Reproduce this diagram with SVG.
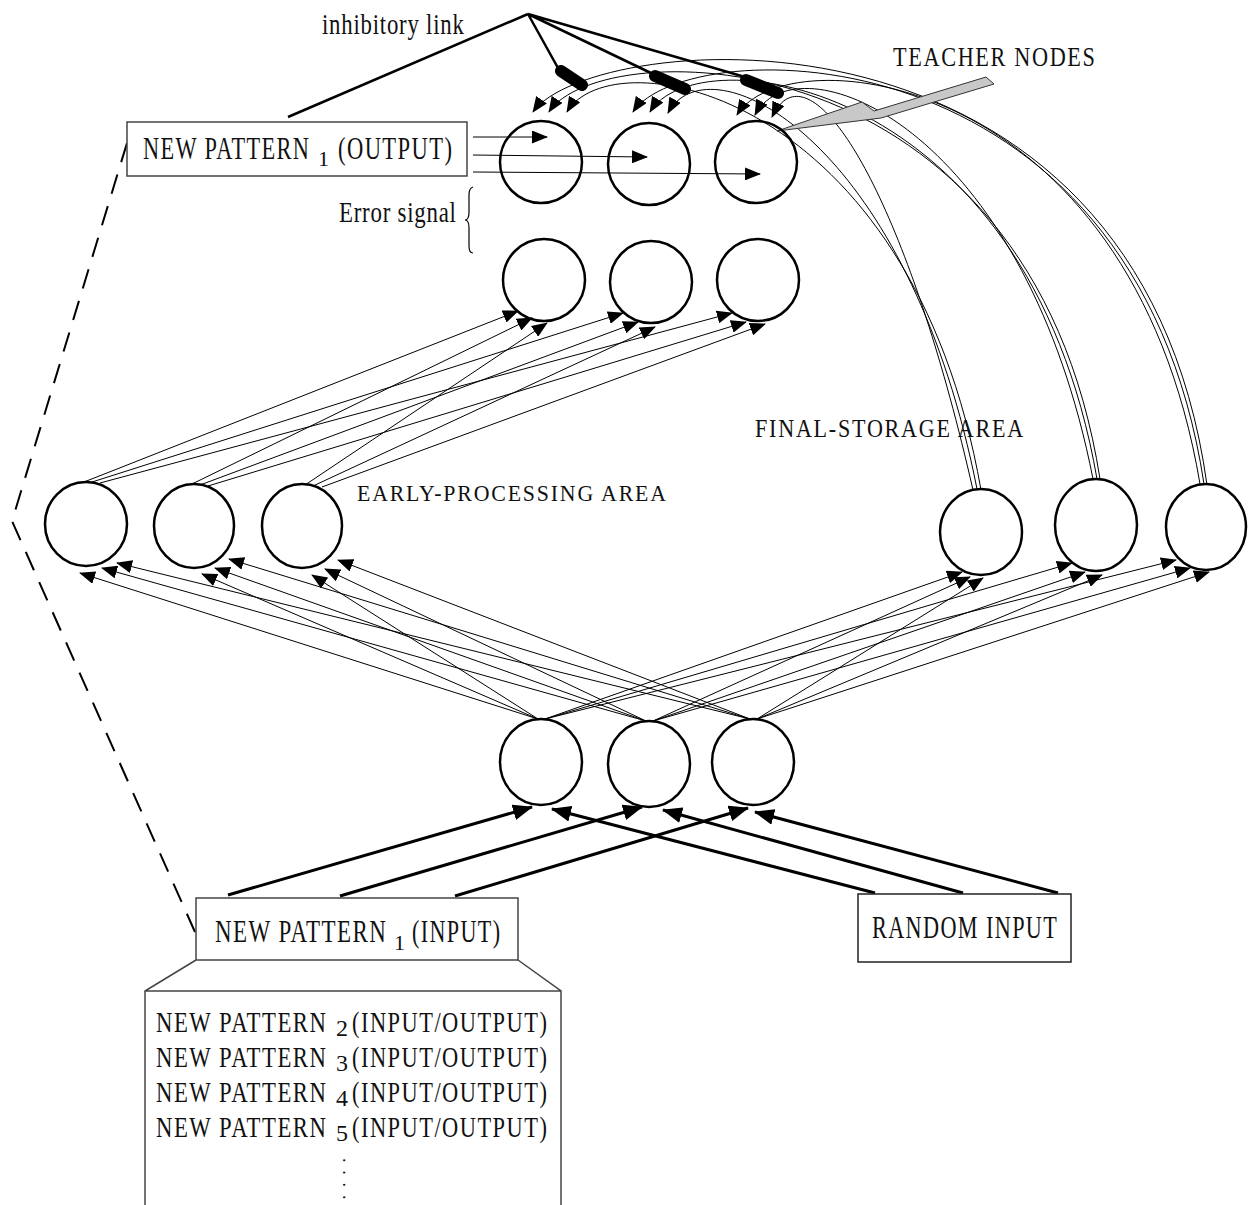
<svg xmlns="http://www.w3.org/2000/svg" width="1249" height="1205" viewBox="0 0 1249 1205">
<style>
.node{fill:none;stroke:#000;stroke-width:2.5}
.box{fill:#fff;stroke:#444;stroke-width:1.5}
.thin{fill:none;stroke:#000;stroke-width:1}
.thick{fill:none;stroke:#000;stroke-width:3}
.inh{fill:none;stroke:#000;stroke-width:2.5}
.cap{fill:none;stroke:#000;stroke-width:12;stroke-linecap:round}
.t{font-family:"Liberation Serif","Times New Roman",serif;fill:#111;letter-spacing:2px}
.s{font-family:"Liberation Serif","Times New Roman",serif;fill:#111}
</style>
<defs>
<marker id="ah" viewBox="0 0 16 13" refX="15" refY="6.5" markerWidth="16" markerHeight="13" markerUnits="userSpaceOnUse" orient="auto"><path d="M0,0 L16,6.5 L0,13 z" fill="#000"/></marker>
<marker id="ahb" viewBox="0 0 20 16" refX="19" refY="8" markerWidth="20" markerHeight="16" markerUnits="userSpaceOnUse" orient="auto"><path d="M0,0 L20,8 L0,16 z" fill="#000"/></marker>
</defs>
<rect width="1249" height="1205" fill="#fff"/>

<g id="connectors">
  <polyline points="127,143 12,521 195,932" fill="none" stroke="#000" stroke-width="2" stroke-dasharray="20,13"/>
  <path class="inh" d="M528,14 L288,117 M528,14 L558,68 M528,14 L653,74 M528,14 L745,77"/>
  <g class="thin" marker-end="url(#ah)">
    <line x1="473" y1="137" x2="547" y2="137"/>
    <line x1="473" y1="155" x2="647" y2="157"/>
    <line x1="473" y1="172" x2="760" y2="174"/>
  </g>
  <g class="thin" marker-end="url(#ah)">
    <path d="M1207,485 C1137,-22 590,30 533,112"/>
    <path d="M1100,479 C1030,31 600,33 549,112"/>
    <path d="M981,490 C911,90 612,36 567,112"/>
    <path d="M1204,484 C1134,23 686,32 633,112"/>
    <path d="M1097,479 C1027,76 696,35 650,112"/>
    <path d="M977,489 C907,136 708,38 668,113"/>
    <path d="M1200,484 C1130,69 786,35 737,115"/>
    <path d="M1093,479 C1023,123 796,37 755,115"/>
    <path d="M973,490 C903,182 808,40 772,117"/>
  </g>
  <g class="thin" marker-end="url(#ah)">
    <line x1="84" y1="482" x2="518" y2="311"/>
    <line x1="92" y1="482" x2="623" y2="313"/>
    <line x1="100" y1="483" x2="732" y2="313"/>
    <line x1="192" y1="484" x2="532" y2="318"/>
    <line x1="200" y1="485" x2="638" y2="322"/>
    <line x1="208" y1="486" x2="746" y2="322"/>
    <line x1="305" y1="485" x2="547" y2="323"/>
    <line x1="313" y1="486" x2="655" y2="327"/>
    <line x1="322" y1="487" x2="765" y2="324"/>
  </g>
  <g class="thin" marker-end="url(#ah)">
    <line x1="538" y1="719" x2="80" y2="573"/>
    <line x1="538" y1="719" x2="202" y2="574"/>
    <line x1="538" y1="719" x2="312" y2="575"/>
    <line x1="545" y1="719" x2="962" y2="572"/>
    <line x1="545" y1="719" x2="1072" y2="563"/>
    <line x1="545" y1="719" x2="1176" y2="560"/>
    <line x1="646" y1="721" x2="102" y2="568"/>
    <line x1="646" y1="721" x2="215" y2="568"/>
    <line x1="646" y1="721" x2="325" y2="569"/>
    <line x1="653" y1="721" x2="970" y2="577"/>
    <line x1="653" y1="721" x2="1085" y2="572"/>
    <line x1="653" y1="721" x2="1190" y2="568"/>
    <line x1="750" y1="719" x2="117" y2="563"/>
    <line x1="750" y1="719" x2="229" y2="559"/>
    <line x1="750" y1="719" x2="338" y2="560"/>
    <line x1="757" y1="719" x2="983" y2="578"/>
    <line x1="757" y1="719" x2="1102" y2="575"/>
    <line x1="757" y1="719" x2="1209" y2="572"/>
  </g>
  <g class="thick" marker-end="url(#ahb)">
    <line x1="228" y1="895" x2="532" y2="807"/>
    <line x1="340" y1="896" x2="642" y2="807"/>
    <line x1="455" y1="896" x2="748" y2="808"/>
    <line x1="875" y1="893" x2="552" y2="809"/>
    <line x1="963" y1="893" x2="663" y2="810"/>
    <line x1="1058" y1="893" x2="755" y2="812"/>
  </g>
  <path class="cap" d="M561,71 L582,85 M655,76 L685,89 M746,80 L778,93"/>
  <path d="M473,187 Q469,188 469,195 L469,212 Q469,220 465,220 Q469,220 469,228 L469,246 Q469,253 473,253" fill="none" stroke="#000" stroke-width="1.2"/>
  <polygon points="777,131 862,102 874,111 986,77 994,84 881,118" fill="#c8c8c8" stroke="#333" stroke-width="1"/>
</g>

<g id="teacher-nodes">
  <circle id="teacher1" class="node" cx="541" cy="162" r="41"/>
  <circle id="teacher2" class="node" cx="649" cy="164" r="41"/>
  <circle id="teacher3" class="node" cx="756" cy="162" r="41"/>
</g>
<g id="hidden-nodes">
  <circle id="hidden1" class="node" cx="544" cy="280" r="41"/>
  <circle id="hidden2" class="node" cx="651" cy="282" r="41"/>
  <circle id="hidden3" class="node" cx="758" cy="280" r="41"/>
</g>
<g id="early-nodes">
  <ellipse id="early1" class="node" cx="86" cy="524" rx="41" ry="42"/>
  <ellipse id="early2" class="node" cx="194" cy="526" rx="40" ry="42"/>
  <ellipse id="early3" class="node" cx="302" cy="526" rx="40" ry="42"/>
</g>
<g id="final-nodes">
  <ellipse id="final1" class="node" cx="981" cy="532" rx="41" ry="43"/>
  <ellipse id="final2" class="node" cx="1096" cy="525" rx="41" ry="46"/>
  <ellipse id="final3" class="node" cx="1206" cy="527" rx="40" ry="43"/>
</g>
<g id="input-nodes">
  <ellipse id="input1" class="node" cx="541" cy="762" rx="41" ry="43"/>
  <ellipse id="input2" class="node" cx="649" cy="764" rx="41" ry="43"/>
  <ellipse id="input3" class="node" cx="753" cy="762" rx="41" ry="43"/>
</g>

<g id="output-box">
  <rect class="box" x="127" y="122" width="340" height="54"/>
  <text class="t" font-size="32" transform="translate(143,159) scale(0.698,1)">NEW PATTERN</text>
  <text class="s" x="318" y="166" font-size="22">1</text>
  <text class="t" font-size="32" transform="translate(338,159) scale(0.706,1)">(OUTPUT)</text>
</g>
<g id="input-box">
  <rect class="box" x="196" y="898" width="322" height="62"/>
  <text class="t" font-size="32" transform="translate(215,942) scale(0.719,1)">NEW PATTERN</text>
  <text class="s" x="394" y="950" font-size="22">1</text>
  <text class="t" font-size="32" transform="translate(412,942) scale(0.69,1)">(INPUT)</text>
</g>
<g id="random-input-box">
  <rect class="box" x="858" y="894" width="213" height="68" style="stroke:#222"/>
  <text class="t" font-size="32" transform="translate(872,938) scale(0.694,1)">RANDOM INPUT</text>
</g>
<g id="pattern-list">
  <path d="M196,960 L145,991 L145,1205 M518,960 L561,991 L561,1205 M145,991 L561,991" fill="none" stroke="#444" stroke-width="1.5"/>
  <text class="t" font-size="30" transform="translate(156,1032) scale(0.758,1)">NEW PATTERN</text>
  <text class="s" x="336" y="1036" font-size="24">2</text>
  <text class="t" font-size="30" transform="translate(352,1032) scale(0.747,1)">(INPUT/OUTPUT)</text>
  <text class="t" font-size="30" transform="translate(156,1067) scale(0.758,1)">NEW PATTERN</text>
  <text class="s" x="336" y="1071" font-size="24">3</text>
  <text class="t" font-size="30" transform="translate(352,1067) scale(0.747,1)">(INPUT/OUTPUT)</text>
  <text class="t" font-size="30" transform="translate(156,1102) scale(0.758,1)">NEW PATTERN</text>
  <text class="s" x="336" y="1106" font-size="24">4</text>
  <text class="t" font-size="30" transform="translate(352,1102) scale(0.747,1)">(INPUT/OUTPUT)</text>
  <text class="t" font-size="30" transform="translate(156,1137) scale(0.758,1)">NEW PATTERN</text>
  <text class="s" x="336" y="1141" font-size="24">5</text>
  <text class="t" font-size="30" transform="translate(352,1137) scale(0.747,1)">(INPUT/OUTPUT)</text>
  <text class="s" font-size="18" letter-spacing="7.8" transform="translate(343,1158) rotate(90)">....</text>
</g>

<g id="labels">
  <text class="t" font-size="29" transform="translate(322,34) scale(0.785,1)" style="letter-spacing:1px">inhibitory link</text>
  <text class="t" font-size="27" transform="translate(893,66) scale(0.824,1)">TEACHER NODES</text>
  <text class="t" font-size="30" transform="translate(339,222) scale(0.762,1)" style="letter-spacing:1px">Error signal</text>
  <text class="t" font-size="25" transform="translate(755,437) scale(0.884,1)">FINAL-STORAGE AREA</text>
  <text class="t" font-size="24" transform="translate(357,501) scale(0.91,1)">EARLY-PROCESSING AREA</text>
</g>
</svg>
